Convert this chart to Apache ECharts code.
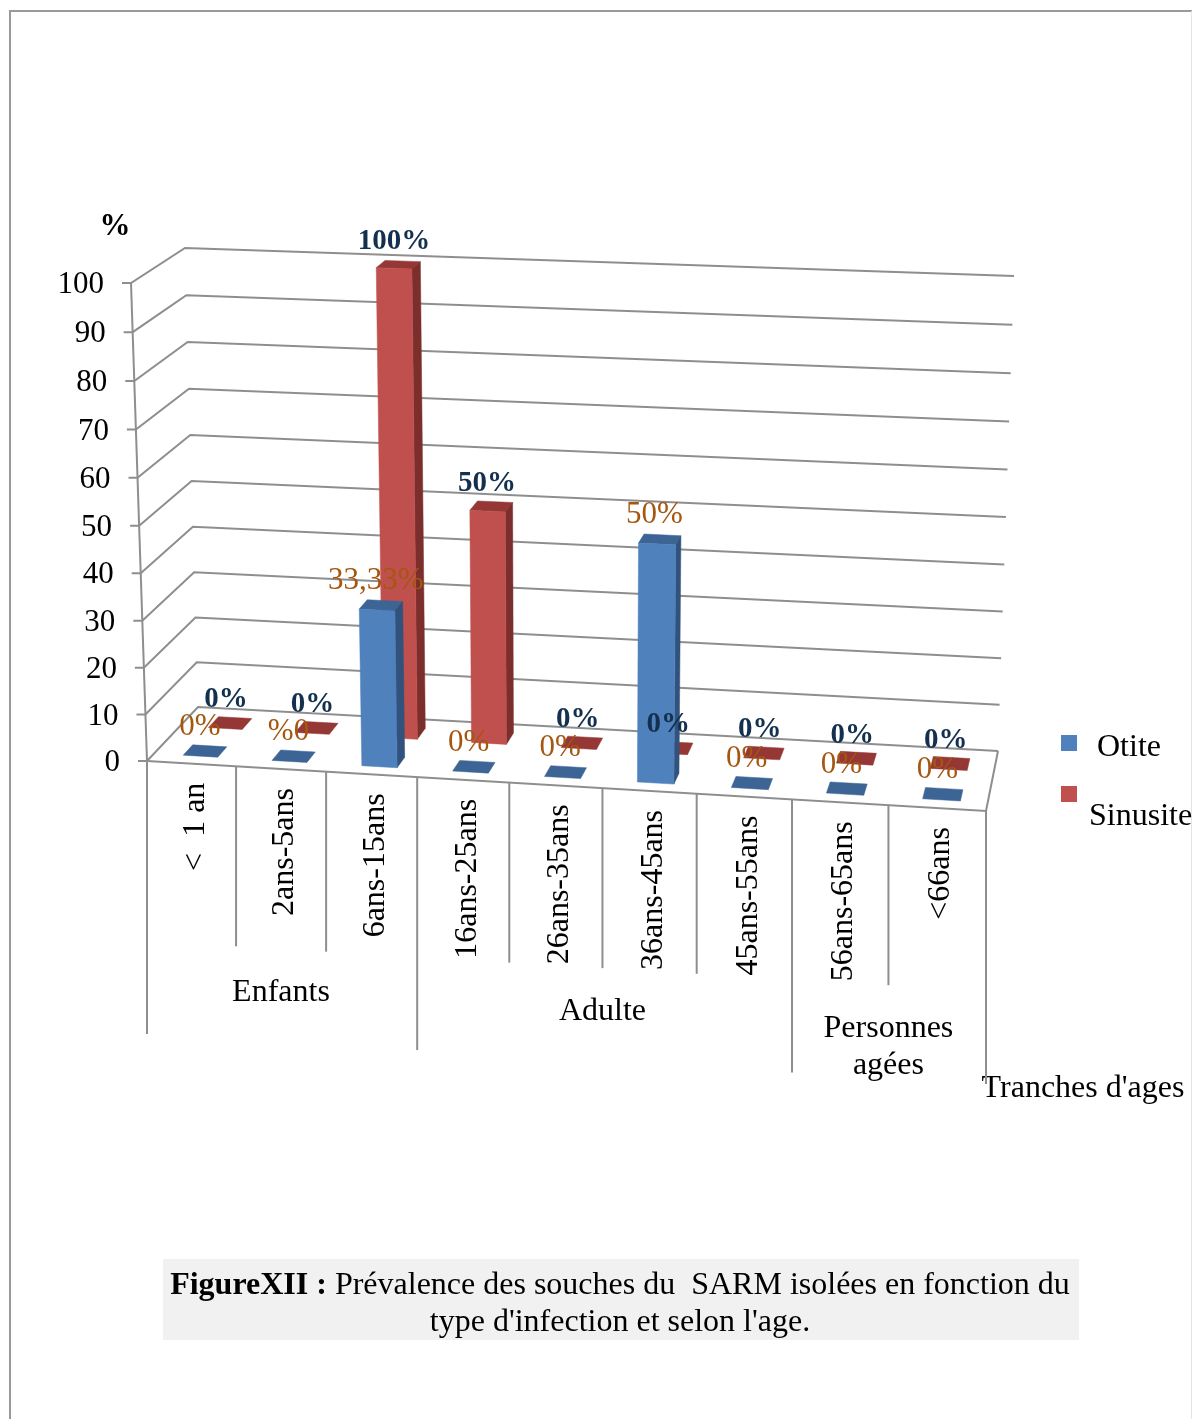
<!DOCTYPE html>
<html lang="fr">
<head>
<meta charset="utf-8">
<title>Prévalence des souches du SARM</title>
<style>
  html, body { margin: 0; padding: 0; background: #ffffff; }
  #chart { width: 1192px; height: 1419px; }
</style>
<script src="https://cdn.jsdelivr.net/npm/echarts@6/dist/echarts.min.js"></script>
</head>
<body>
<div id="chart"></div>
<script>
// Prevalence by age bracket
const categories = ['<  1 an', '2ans-5ans', '6ans-15ans', '16ans-25ans', '26ans-35ans', '36ans-45ans', '45ans-55ans', '56ans-65ans', '<66ans'];
const otite = [0, 0, 33.33, 0, 0, 50, 0, 0, 0];
const sinusite = [0, 0, 100, 50, 0, 0, 0, 0, 0];
const otiteLabels = ['0%', '%0', '33,33%', '0%', '0%', '50%', '0%', '0%', '0%'];
const sinusiteLabels = ['0%', '0%', '100%', '50%', '0%', '0%', '0%', '0%', '0%'];
const yTicks = [0, 10, 20, 30, 40, 50, 60, 70, 80, 90, 100];
const groupNames = ['Enfants', 'Adulte', 'Personnes\nagées'];
const groupStarts = [0, 3, 7];
const groupEnds = [3, 7, 9];

const SERIF = '"Liberation Serif", "Times New Roman", serif';
const AXIS_GREY = '#8E8E8E';

// Corners of the perspective box, [x, y] on screen.
const BOX = {
  flb: [147, 761], frb: [986, 811], blb: [198, 707], brb: [998, 751],
  flt: [131, 283], frt: [1001, 316], blt: [185, 248], brt: [1014, 276]
};

// Foreshortening along one axis
function warp(t, w) { return (w * t) / ((1 - t) + w * t); }
function mix(a, b, t) { return [a[0] + (b[0] - a[0]) * t, a[1] + (b[1] - a[1]) * t]; }

// u: across the categories, v: up the value axis, z: front (0) to back (1)
function project(u, v, z) {
  const U = warp(u, 0.95), V = warp(v, 0.97);
  const front = mix(mix(BOX.flb, BOX.frb, U), mix(BOX.flt, BOX.frt, U), V);
  const back = mix(mix(BOX.blb, BOX.brb, U), mix(BOX.blt, BOX.brt, U), V);
  return mix(front, back, z);
}

// Reads a data position through the cartesian axes and normalises it to the box.
function toBox(params, api, cat, value, bandOffset) {
  const g = params.coordSys;
  const c = api.coord([cat, value]);
  const band = api.size([1, 0])[0];
  return {
    u: (c[0] - g.x + bandOffset * band) / g.width,
    v: (g.y + g.height - c[1]) / g.height
  };
}

function line(points, width) {
  return {
    type: 'polyline',
    shape: { points: points },
    style: { stroke: AXIS_GREY, lineWidth: width || 2, fill: null }
  };
}

function label(text, x, y, font, fill) {
  return {
    type: 'text', x: x, y: y,
    style: { text: text, font: font, fill: fill, align: 'center', verticalAlign: 'middle' }
  };
}

// Walls, floor and value-axis ticks
function renderGrid(params, api) {
  const tick = api.value(1);
  const p = toBox(params, api, 0, tick, 0);
  const a = project(0, p.v, 0), b = project(0, p.v, 1), c = project(1, p.v, 1);
  const children = [
    line([[a[0] - 9, a[1]], a, b, c]),
    {
      type: 'text', x: a[0] - 27, y: a[1] + 2,
      style: { text: String(tick), font: '31px ' + SERIF, fill: '#000000', align: 'right', verticalAlign: 'middle' }
    }
  ];
  if (tick === 0) {
    children.push(line([project(0, 0, 0), project(1, 0, 0), project(1, 0, 1)]));
    children.push(line([project(0, 0, 0), project(0, 1, 0)]));
  }
  return { type: 'group', children: children };
}

// Dividers hanging below the front edge of the floor
function renderDividers(params, api) {
  const k = api.value(0);
  const e = project(k / categories.length, 0, 0);
  const long = groupStarts.concat(groupEnds).indexOf(k) >= 0;
  return line([e, [e[0], e[1] + (long ? 273 : 180)]]);
}

function renderCategoryLabel(params, api) {
  const i = api.value(0);
  const p = toBox(params, api, i, 0, 0);
  const e = project(p.u, 0, 0);
  return {
    type: 'text', x: e[0] + 4, y: e[1] + 19, rotation: Math.PI / 2,
    style: { text: categories[i], font: '32px ' + SERIF, fill: '#000000', align: 'right', verticalAlign: 'middle' }
  };
}

function renderGroupLabel(params, api) {
  const i = api.value(0);
  const e = project((groupStarts[i] + groupEnds[i]) / 2 / categories.length, 0, 0);
  return {
    type: 'text', x: e[0], y: e[1] + 205,
    style: { text: groupNames[i], font: '32px ' + SERIF, lineHeight: 37, fill: '#000000', align: 'center', verticalAlign: 'top' }
  };
}

// One 3D column: top, right side and front faces
function barRenderer(zFront, zBack, colors) {
  return function (params, api) {
    const i = api.value(0), val = api.value(1);
    const l = toBox(params, api, i, val, -0.17);
    const r = toBox(params, api, i, val, 0.22);
    const v = l.v;
    const face = (pts, fill) => ({
      type: 'polygon', shape: { points: pts },
      style: { fill: fill, stroke: fill, lineWidth: 0.5 }
    });
    const faces = [
      face([project(l.u, v, zFront), project(r.u, v, zFront), project(r.u, v, zBack), project(l.u, v, zBack)], colors.top)
    ];
    if (val > 0) {
      faces.push(face([project(r.u, 0, zFront), project(r.u, 0, zBack), project(r.u, v, zBack), project(r.u, v, zFront)], colors.side));
      faces.push(face([project(l.u, 0, zFront), project(r.u, 0, zFront), project(r.u, v, zFront), project(l.u, v, zFront)], colors.front));
    }
    return { type: 'group', children: faces };
  };
}

// Value label placed just above the centre of a column's top face
function valueLabelRenderer(texts, zFront, zBack, dx, dy, font, fill) {
  return function (params, api) {
    const i = api.value(0), val = api.value(1);
    const p = toBox(params, api, i, val, 0);
    const c = project(p.u, p.v, (zFront + zBack) / 2);
    return label(texts[i], c[0] + dx, c[1] + dy, font, fill);
  };
}

const OTITE_Z = [0.14, 0.33];
const SINUSITE_Z = [0.65, 0.85];
const toPairs = arr => arr.map((v, i) => [i, v]);

const chart = echarts.init(document.getElementById('chart'));
chart.setOption({
  animation: false,
  backgroundColor: '#ffffff',
  title: {
    left: 615, top: 1262, textAlign: 'center',
    text: '{b|FigureXII :} {r|Prévalence des souches du  SARM isolées en fonction du}\n{r|type d\'infection et selon l\'age.}',
    textStyle: {
      fontFamily: SERIF, fontSize: 32, fontWeight: 'normal', color: '#000000', lineHeight: 37,
      rich: {
        b: { fontFamily: SERIF, fontSize: 32, fontWeight: 'bold', color: '#000000', lineHeight: 37 },
        r: { fontFamily: SERIF, fontSize: 32, fontWeight: 'normal', color: '#000000', lineHeight: 37 }
      }
    }
  },
  grid: { left: 147, top: 283, width: 839, height: 478 },
  xAxis: { type: 'category', data: categories, show: false },
  yAxis: { type: 'value', min: 0, max: 100, interval: 10, show: false },
  legend: [
    {
      data: ['Otite'], left: 1061, top: 722, itemWidth: 16, itemHeight: 16, icon: 'rect',
      selectedMode: false, padding: 0, formatter: '\n{name}',
      textStyle: { fontFamily: SERIF, fontSize: 32, lineHeight: 10, color: '#000000', padding: [0, 0, 0, 15] }
    },
    {
      data: ['Sinusite'], left: 1061, top: 748, itemWidth: 16, itemHeight: 16, icon: 'rect',
      selectedMode: false, padding: 0, formatter: '\n{name}',
      textStyle: { fontFamily: SERIF, fontSize: 32, lineHeight: 46, color: '#000000', padding: [0, 0, 0, 7] }
    }
  ],
  series: [
    { type: 'custom', name: 'grid', z: 1, silent: true, renderItem: renderGrid, data: yTicks.map(t => [0, t]) },
    { type: 'custom', name: 'dividers', z: 1, silent: true, renderItem: renderDividers, data: categories.map((c, i) => [i, 0]).concat([[categories.length, 0]]) },
    { type: 'custom', name: 'categories', z: 1, silent: true, renderItem: renderCategoryLabel, data: categories.map((c, i) => [i, 0]) },
    { type: 'custom', name: 'groups', z: 1, silent: true, renderItem: renderGroupLabel, data: groupNames.map((c, i) => [i, 0]) },
    {
      type: 'custom', name: 'Sinusite', z: 3, silent: true, itemStyle: { color: '#C0504D' },
      renderItem: barRenderer(SINUSITE_Z[0], SINUSITE_Z[1], { front: '#BF504D', side: '#7B2E2C', top: '#953735' }),
      data: toPairs(sinusite)
    },
    {
      type: 'custom', name: 'Otite', z: 4, silent: true, itemStyle: { color: '#4F81BD' },
      renderItem: barRenderer(OTITE_Z[0], OTITE_Z[1], { front: '#4F81BD', side: '#30527C', top: '#3C6494' }),
      data: toPairs(otite)
    },
    {
      type: 'custom', name: 'otite labels', z: 6, silent: true,
      renderItem: valueLabelRenderer(otiteLabels, OTITE_Z[0], OTITE_Z[1], -3, -24, '31px ' + SERIF, '#A5560F'),
      data: toPairs(otite)
    },
    {
      type: 'custom', name: 'sinusite labels', z: 6, silent: true,
      renderItem: valueLabelRenderer(sinusiteLabels, SINUSITE_Z[0], SINUSITE_Z[1], -2, -23, 'bold 29px ' + SERIF, '#14304F'),
      data: toPairs(sinusite)
    }
  ],
  graphic: [
    { type: 'rect', z: -10, shape: { x: 163, y: 1259, width: 916, height: 81 }, style: { fill: '#F1F1F1' } },
    { type: 'polyline', z: -10, shape: { points: [[10, 1419], [10, 11], [1192, 11]] }, style: { stroke: '#9A9A9A', lineWidth: 2, fill: null } },
    { type: 'line', z: -10, shape: { x1: 1191.5, y1: 11, x2: 1191.5, y2: 1419 }, style: { stroke: '#E4E4E4', lineWidth: 1 } },
    { type: 'text', x: 115, y: 227, style: { text: '%', font: 'bold 31px ' + SERIF, fill: '#000000', align: 'center', verticalAlign: 'middle' } },
    { type: 'text', x: 1083, y: 1089, style: { text: "Tranches d'ages", font: '32px ' + SERIF, fill: '#000000', align: 'center', verticalAlign: 'middle' } }
  ]
});
</script>
</body>
</html>
